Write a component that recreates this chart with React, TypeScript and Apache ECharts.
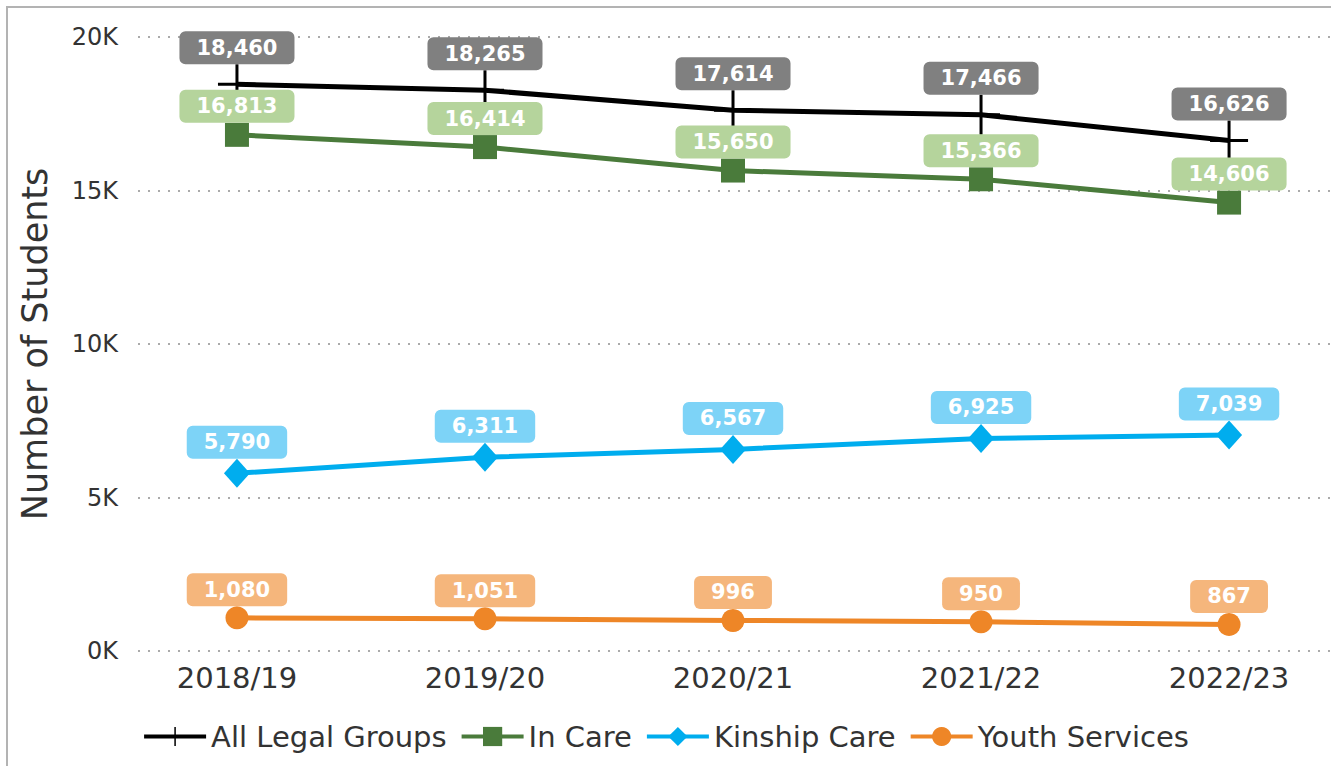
import React, { useEffect, useRef } from "react";
import * as echarts from "echarts";

const years = ["2018/19", "2019/20", "2020/21", "2021/22", "2022/23"];
const allLegal = [18460, 18265, 17614, 17466, 16626];
const inCare = [16813, 16414, 15650, 15366, 14606];
const kinship = [5790, 6311, 6567, 6925, 7039];
const youth = [1080, 1051, 996, 950, 867];
const yTicks = [0, 5000, 10000, 15000, 20000];

const FONT = "DejaVu Sans";
const PLUS = "path://M17.5,0h3v18.5h17.5v3h-17.5v18.5h-3v-18.5h-17.5v-3h17.5z";

const fmt = (v: number) => v.toLocaleString("en-US");

function series(name: string, data: number[], color: string, labelBg: string, symbol: string, size: number | number[], width = 5) {
  return {
    name,
    type: "line",
    data: data.map((v, i) => [i, v]),
    symbol,
    symbolSize: size,
    showAllSymbol: true,
    itemStyle: { color, opacity: 1 },
    lineStyle: { color, width },
    label: {
      show: true,
      position: "top",
      distance: 0,
      formatter: (p: any) => fmt(p.value[1]),
      color: "#ffffff",
      fontFamily: FONT,
      fontWeight: "bold",
      fontSize: 21,
      lineHeight: 22,
      backgroundColor: labelBg,
      borderRadius: 6,
      padding: [5.5, 17, 5.5, 17],
    },
    emphasis: { disabled: true },
  };
}

export default function App() {
  const ref = useRef<HTMLDivElement>(null);
  useEffect(() => {
    if (!ref.current) return;
    const chart = echarts.init(ref.current, null, { renderer: "svg" });
    chart.setOption({
      animation: false,
      backgroundColor: "#ffffff",
      textStyle: { fontFamily: FONT },
      graphic: [
        {
          type: "rect",
          x: 7,
          y: 7,
          shape: { width: 1500, height: 1000 },
          style: { fill: "none", stroke: "#b3b3b3", lineWidth: 2 },
          silent: true,
        },
      ],
      grid: { left: 138, right: 0, top: 37, bottom: 115, outerBoundsMode: "none", containLabel: false },
      legend: {
        left: "center",
        top: 717,
        itemWidth: 62,
        itemHeight: 24,
        itemGap: 13,
        lineStyle: { width: 4 },
        textStyle: { fontFamily: FONT, fontSize: 29, color: "#333333" },
        data: ["All Legal Groups", "In Care", "Kinship Care", "Youth Services"],
      },
      xAxis: {
        type: "value",
        min: -0.399,
        max: 4.411,
        axisLine: { show: false },
        axisTick: { show: false },
        splitLine: { show: false },
        axisLabel: {
          customValues: [0, 1, 2, 3, 4],
          formatter: (v: number) => years[Math.round(v)] ?? "",
          fontFamily: FONT,
          fontSize: 29,
          color: "#333333",
          margin: 12,
        },
      },
      yAxis: {
        type: "value",
        min: yTicks[0],
        max: yTicks[yTicks.length - 1],
        interval: 5000,
        name: "Number of Students",
        nameLocation: "middle",
        nameGap: 86,
        nameTextStyle: { fontFamily: FONT, fontSize: 35, color: "#333333" },
        axisLine: { show: false },
        axisTick: { show: false },
        axisLabel: {
          formatter: (v: number) => `${v / 1000}K`,
          fontFamily: FONT,
          fontSize: 24,
          color: "#333333",
          margin: 20,
        },
        splitLine: { show: true, lineStyle: { color: "#aaaaaa", width: 2, type: [2, 8] } },
      },
      series: [
        series("Youth Services", youth, "#ee8627", "#f5b67c", "circle", 23),
        series("Kinship Care", kinship, "#00adee", "#7dd3f7", "diamond", [26, 29]),
        series("In Care", inCare, "#4a7b3b", "#b5d49c", "rect", 24),
        series("All Legal Groups", allLegal, "#000000", "#808080", PLUS, [38, 40]),
      ],
    });
    return () => chart.dispose();
  }, []);
  return <div ref={ref} style={{ position: "absolute", left: 0, top: 0, width: 1331, height: 766 }} />;
}
